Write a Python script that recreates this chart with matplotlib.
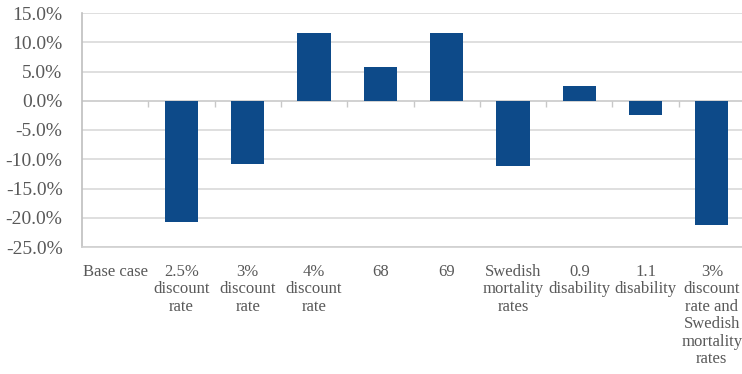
import numpy as np
import matplotlib
matplotlib.use('Agg')
import matplotlib.pyplot as plt

# Sensitivity analysis - change relative to base case

categories = ['Base case', '2.5%\ndiscount\nrate', '3%\ndiscount\nrate', '4%\ndiscount\nrate',
              '68', '69', 'Swedish\nmortality\nrates', '0.9\ndisability', '1.1\ndisability',
              '3%\ndiscount\nrate and\nSwedish\nmortality\nrates']
changes = [0.0, -20.7, -10.8, 11.5, 5.7, 11.5, -11.1, 2.5, -2.5, -21.3]
y_ticks = [-25, -20, -15, -10, -5, 0, 5, 10, 15]

plt.rcParams['font.family'] = ['Liberation Serif', 'DejaVu Serif']
text_color = '#595959'

fig = plt.figure(figsize=(7.42, 3.74), dpi=100)
ax = fig.add_axes([82 / 742, 127 / 374, 663 / 742, 234 / 374])

x = np.arange(len(categories))
ax.bar(x, changes, width=0.5, color='#0D4A89', linewidth=0, zorder=3)

ax.set_xlim(-0.5, len(categories) - 0.5)
ax.set_ylim(-25, 15)
ax.set_yticks(y_ticks)
ax.set_yticklabels(['{:.1f}%'.format(v) for v in y_ticks], fontsize=14, color=text_color)
ax.yaxis.grid(True, color='#D9D9D9', linewidth=1.2, zorder=0)
ax.tick_params(axis='y', length=0, pad=14)

ax.set_xticks(x)
ax.set_xticklabels(categories, fontsize=12, color=text_color, linespacing=1.13, va='top')
ax.tick_params(axis='x', length=0, pad=12)

# zero line with category boundary tick marks
ax.axhline(0, color='#D0D0D0', linewidth=1.2, zorder=2)
bounds = np.arange(len(categories) + 1) - 0.5
ax.vlines(bounds[1:], -1.0, 0, color='#C8C8C8', linewidth=1, zorder=2)

for side in ['top', 'right']:
    ax.spines[side].set_visible(False)
ax.spines['left'].set_color('#BFBFBF')
ax.spines['bottom'].set_color('#D0D0D0')
ax.spines['left'].set_linewidth(1.2)
ax.spines['bottom'].set_linewidth(1.2)

fig.savefig('out.png', dpi=100)
